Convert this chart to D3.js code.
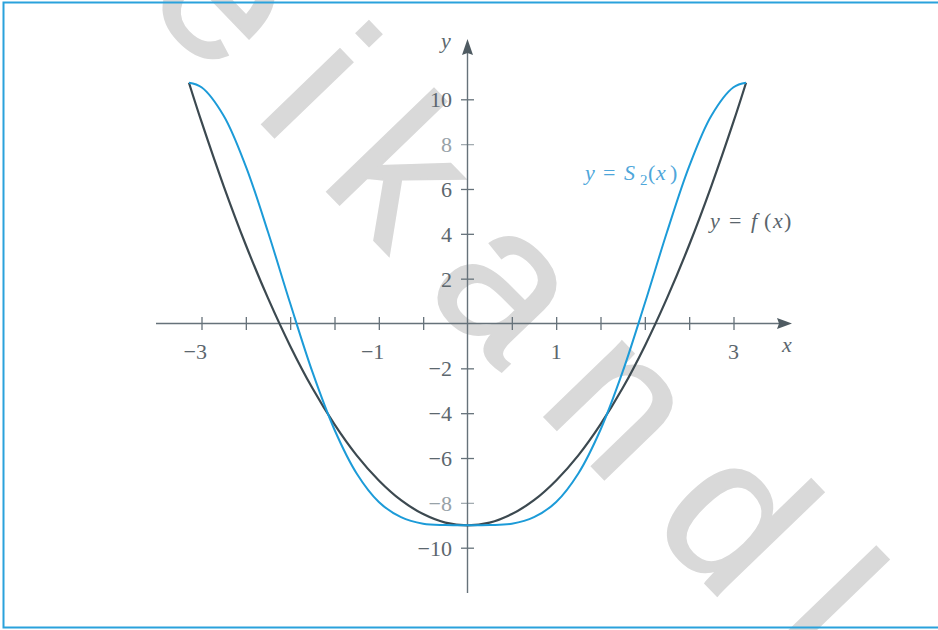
<!DOCTYPE html>
<html>
<head>
<meta charset="utf-8">
<script src="https://cdn.jsdelivr.net/npm/d3@7"></script>
<style>
  body { margin: 0; background: #fff; }
  svg { display: block; }
</style>
</head>
<body>
<svg id="chart" width="938" height="630"></svg>
<script>
// Sample positions along x (from -pi to pi)
const xValues = [-3.1416, -3, -2.75, -2.5, -2.25, -2, -1.75, -1.5, -1.25, -1, -0.75, -0.5, -0.25, 0,
                 0.25, 0.5, 0.75, 1, 1.25, 1.5, 1.75, 2, 2.25, 2.5, 2.75, 3, 3.1416];
// y = f(x)
const fValues = [10.74, 9.0, 6.13, 3.5, 1.13, -1.0, -2.88, -4.5, -5.88, -7.0, -7.88, -8.5, -8.88, -9.0,
                 -8.88, -8.5, -7.88, -7.0, -5.88, -4.5, -2.88, -1.0, 1.13, 3.5, 6.13, 9.0, 10.74];
// y = S2(x)
const s2Values = [10.74, 10.54, 9.27, 7.01, 4.08, 0.9, -2.15, -4.74, -6.69, -7.96, -8.64, -8.93, -8.99, -9.0,
                  -8.99, -8.93, -8.64, -7.96, -6.69, -4.74, -2.15, 0.9, 4.08, 7.01, 9.27, 10.54, 10.74];

const xTicks = [-3, -2.5, -2, -1.5, -1, -0.5, 0.5, 1, 1.5, 2, 2.5, 3];
const xTickLabels = [-3, -1, 1, 3];
const yTicks = [-10, -8, -6, -4, -2, 2, 4, 6, 8, 10];
const yTickLabels = [-10, -8, -6, -4, -2, 2, 4, 6, 8, 10];
const watermarkText = "eikandl";

const svg = d3.select("#chart");
const W = 938, H = 630;

const x = d3.scaleLinear().domain([-3, 3]).range([201.5, 733.5]);
const y = d3.scaleLinear().domain([-10, 10]).range([547.7, 99.3]);

const axisColor = "#66727a";
const labelColor = "#5c676e";
const SERIF = '"Liberation Serif", "Times New Roman", serif';
const SANS = '"Liberation Sans", Arial, sans-serif';
const fmt = d => (d < 0 ? "\u2212" + Math.abs(d) : String(d));

svg.append("rect").attr("width", W).attr("height", H).attr("fill", "#fff");

// watermark lettering behind the chart
svg.append("text")
  .style("font-family", SANS)
  .attr("transform", "translate(140,-2) rotate(46)")
  .attr("font-size", 205)
  .attr("letter-spacing", 48)
  .attr("fill", "#d9d9d9")
  .attr("stroke", "#d9d9d9")
  .attr("stroke-width", 2)
  .text(watermarkText);

// frame
svg.append("path")
  .attr("d", `M${W},2.5 H3.5 V627.5 H${W}`)
  .attr("fill", "none")
  .attr("stroke", "#2aa2dc")
  .attr("stroke-width", 2);

const x0 = x(0), y0 = y(0);

// x axis
const gx = svg.append("g").attr("transform", `translate(0,${y0})`)
  .call(d3.axisBottom(x).tickValues(xTicks).tickSize(6.5).tickFormat(""));
gx.select(".domain").remove();
gx.selectAll(".tick line").attr("y1", -6.5).attr("y2", 6.5)
  .attr("stroke", axisColor).attr("stroke-width", 1.3);
svg.append("line").attr("x1", 156).attr("x2", 782).attr("y1", y0).attr("y2", y0)
  .attr("stroke", axisColor).attr("stroke-width", 1.4);
svg.append("path")
  .attr("d", `M792,${y0} L777,${y0 - 5.5} L779,${y0} L777,${y0 + 5.5} Z`)
  .attr("fill", "#4f5b62");

// y axis
const gy = svg.append("g").attr("transform", `translate(${x0},0)`)
  .call(d3.axisLeft(y).tickValues(yTicks).tickSize(6.5).tickFormat(""));
gy.select(".domain").remove();
gy.selectAll(".tick line").attr("x1", -6.5).attr("x2", 6.5)
  .attr("stroke", d => Math.abs(d) === 8 ? "#a3acb1" : axisColor).attr("stroke-width", 1.3);
svg.append("line").attr("x1", x0).attr("x2", x0).attr("y1", 50).attr("y2", 593)
  .attr("stroke", axisColor).attr("stroke-width", 1.4);
svg.append("path")
  .attr("d", `M${x0},39 L${x0 - 5.5},55 L${x0},53 L${x0 + 5.5},55 Z`)
  .attr("fill", "#4f5b62");

// tick labels
svg.append("g").selectAll("text").data(xTickLabels).join("text")
  .style("font-family", SERIF)
  .attr("x", d => x(d) + 5.5)
  .attr("y", y0 + 35)
  .attr("text-anchor", "end")
  .attr("font-size", 22).attr("fill", labelColor)
  .text(fmt);

svg.append("g").selectAll("text").data(yTickLabels).join("text")
  .style("font-family", SERIF)
  .attr("x", 452)
  .attr("y", d => y(d) + 8)
  .attr("text-anchor", "end")
  .attr("font-size", 22)
  .attr("fill", d => Math.abs(d) === 8 ? "#98a2a8" : labelColor)
  .text(fmt);

// axis names
svg.append("text").style("font-family", SERIF).attr("x", 787).attr("y", 351.5).attr("text-anchor", "middle")
  .attr("font-style", "italic").attr("font-size", 22)
  .attr("fill", labelColor).text("x");
svg.append("text").style("font-family", SERIF).attr("x", 446).attr("y", 47.5).attr("text-anchor", "middle")
  .attr("font-style", "italic").attr("font-size", 22)
  .attr("fill", labelColor).text("y");

// curves
const pts = vals => xValues.map((xv, i) => [xv, vals[i]]);
const line = d3.line().x(d => x(d[0])).y(d => y(d[1])).curve(d3.curveCatmullRom.alpha(0.5));

svg.append("path").attr("d", line(pts(fValues)))
  .attr("fill", "none").attr("stroke", "#3c4950").attr("stroke-width", 2.2)
  .attr("stroke-linejoin", "round");
svg.append("path").attr("d", line(pts(s2Values)))
  .attr("fill", "none").attr("stroke", "#1c9bd8").attr("stroke-width", 2)
  .attr("stroke-linejoin", "round");

// curve labels, each glyph group placed at its own x
function curveLabel(yp, color, parts) {
  const t = svg.append("text").style("font-family", SERIF).attr("y", yp)
    .attr("font-size", 22).attr("fill", color);
  parts.forEach(p => {
    const s = t.append("tspan").attr("x", p.x).attr("y", yp + (p.sub ? 5 : 0)).text(p.t);
    if (p.i) s.attr("font-style", "italic");
    if (p.sub) s.attr("font-size", 15);
  });
}
curveLabel(180, "#4ea6da", [
  { t: "y", i: true, x: 585 }, { t: "=", x: 603 }, { t: "S", i: true, x: 624 },
  { t: "2", sub: true, x: 640 }, { t: "(", x: 648 }, { t: "x", i: true, x: 656 }, { t: ")", x: 670 }
]);
curveLabel(228, "#5a656c", [
  { t: "y", i: true, x: 710 }, { t: "=", x: 729 }, { t: "f", i: true, x: 751 },
  { t: "(", x: 764 }, { t: "x", i: true, x: 773 }, { t: ")", x: 784 }
]);
</script>
</body>
</html>
